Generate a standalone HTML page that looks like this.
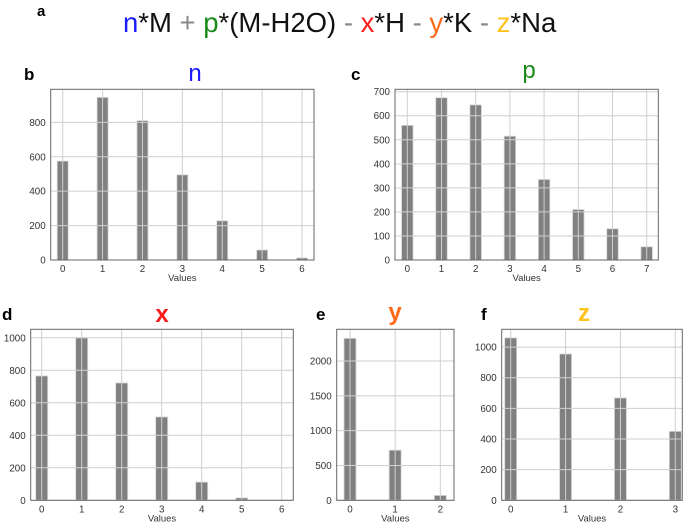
<!DOCTYPE html>
<html><head><meta charset="utf-8"><style>
html,body{margin:0;padding:0;background:#fff;}
svg{display:block;font-family:"Liberation Sans",sans-serif;}
</style></head><body>
<svg id="fig" width="685" height="524" viewBox="0 0 685 524">
<text x="37" y="16" font-size="15" font-weight="bold">a</text>
<text x="123" y="32" font-size="27.5"><tspan fill="#1a1aff">n</tspan><tspan fill="#111">*M </tspan><tspan fill="#888">+ </tspan><tspan fill="#1a8a1a">p</tspan><tspan fill="#111">*(M-H2O) </tspan><tspan fill="#888">- </tspan><tspan fill="#ff1a1a">x</tspan><tspan fill="#111">*H </tspan><tspan fill="#888">- </tspan><tspan fill="#ff6a1a">y</tspan><tspan fill="#111">*K </tspan><tspan fill="#888">- </tspan><tspan fill="#ffc21a">z</tspan><tspan fill="#111">*Na</tspan></text>
</svg>
<script>
const nCats=[0,1,2,3,4,5,6];
const nVals=[575,945,810,495,228,58,12];
const nTicks=[0,200,400,600,800];
const pCats=[0,1,2,3,4,5,6,7];
const pVals=[560,675,645,515,335,210,130,55];
const pTicks=[0,100,200,300,400,500,600,700];
const xCats=[0,1,2,3,4,5,6];
const xVals=[765,1000,722,513,112,15,0];
const xTicks=[0,200,400,600,800,1000];
const yCats=[0,1,2];
const yVals=[2326,720,70];
const yTicks=[0,500,1000,1500,2000];
const zCats=[0,1,2,3];
const zVals=[1060,955,668,450];
const zTicks=[0,200,400,600,800,1000];

const NS="http://www.w3.org/2000/svg";
const svg=document.getElementById('fig');
function mk(tag,attrs,parent){const e=document.createElementNS(NS,tag);for(const k in attrs)e.setAttribute(k,attrs[k]);(parent||svg).appendChild(e);return e;}

function panel(o){
  const g=mk('g',{});
  
  
  const L=o.left,R=o.right,T=o.top,B=o.bottom;
  const xs=v=>o.x0+(v-o.cats[0])*(o.x1-o.x0)/(o.cats[o.cats.length-1]-o.cats[0]);
  const ys=v=>B-(v/o.ymax)*(B-T);
  o.vals.forEach((v,i)=>{
    const cx=xs(o.cats[i]);
    const r=mk('rect',{x:cx-o.bw/2,y:ys(v),width:o.bw,height:B-ys(v),fill:'#808080',stroke:'#d8d8d8','stroke-width':0.8},g);
    
    
  });
  o.cats.forEach(c=>{
    const l=mk('line',{x1:xs(c),x2:xs(c),y1:T,y2:B,stroke:'#cfcfcf','stroke-width':1},g);
    
    
    const t=mk('text',{x:xs(c),y:B+12,'font-size':9.8,'text-anchor':'middle',fill:'#333'},g);
    t.textContent=c;
    
    
  });
  o.ticks.forEach(v=>{
    const l=mk('line',{x1:L,x2:R,y1:ys(v),y2:ys(v),stroke:'#cfcfcf','stroke-width':1},g);
    
    
    const t=mk('text',{x:L-5,y:ys(v)+3.5,'font-size':9.8,'text-anchor':'end',fill:'#333'},g);
    t.textContent=v;
    
    
  });
  const f=mk('rect',{x:L,y:T,width:R-L,height:B-T,fill:'none',stroke:'#666','stroke-width':1},g);
  
  
  const xl=mk('text',{x:(L+R)/2,y:B+21,'font-size':9.5,'text-anchor':'middle',fill:'#333'},g);
  xl.textContent='Values';
  
  
  const tt=mk('text',{x:o.tx,y:o.ty,'font-size':24,'text-anchor':'middle',fill:o.color,'font-weight':o.tb?'bold':'normal'},g);
  tt.textContent=o.name;
  
  
  const pl=mk('text',{x:o.lx,y:o.ly,'font-size':17,'font-weight':'bold',fill:'#000'},g);
  pl.textContent=o.letter;
  
  
}
panel({name:'n',letter:'b',cats:nCats,vals:nVals,ticks:nTicks,left:50.7,right:314,top:89.3,bottom:260,x0:62.7,x1:302,ymax:992,bw:11,tx:195,ty:81,color:'#1a1aff',lx:24,ly:80});
panel({name:'p',letter:'c',cats:pCats,vals:pVals,ticks:pTicks,left:395,right:658.3,top:89.3,bottom:260,x0:407.3,x1:646.7,ymax:710,bw:11.5,tx:529,ty:78,color:'#1a8a1a',lx:351,ly:80});
panel({name:'x',letter:'d',cats:xCats,vals:xVals,ticks:xTicks,left:30.7,right:293.3,top:329.3,bottom:500.3,x0:41.7,x1:281.7,ymax:1052,bw:12,tx:162,ty:322,color:'#ff1a1a',tb:true,lx:2,ly:320});
panel({name:'y',letter:'e',cats:yCats,vals:yVals,ticks:yTicks,left:336.7,right:454,top:329.3,bottom:500.3,x0:350,x1:440.3,ymax:2456,bw:12,tx:395,ty:320,color:'#ff6a1a',tb:true,lx:316,ly:320});
panel({name:'z',letter:'f',cats:zCats,vals:zVals,ticks:zTicks,left:501.7,right:682.3,top:329.3,bottom:500.3,x0:510.7,x1:675.3,ymax:1116,bw:12,tx:584,ty:321,color:'#ffc21a',tb:true,lx:481,ly:320});
</script>
</body></html>
